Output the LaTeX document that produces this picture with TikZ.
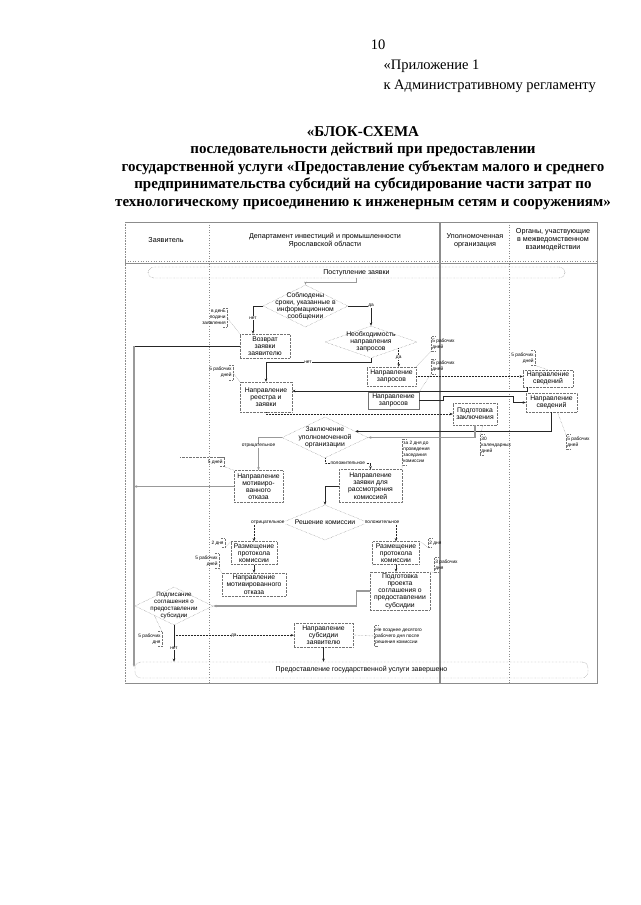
\documentclass[tikz,border=0pt]{standalone}
\usepackage{fontspec}
\setmainfont{Liberation Serif}
\setsansfont{Liberation Sans}
\usetikzlibrary{arrows.meta, positioning, calc, shapes.geometric}
\definecolor{FrameGray}{gray}{0.55}
\definecolor{BoxGray}{gray}{0.45}
\definecolor{LineGray}{gray}{0.6}

\tikzset{
  blk/.style={draw=BoxGray, densely dotted, align=center, inner sep=0pt,
    font=\sffamily\fontsize{6.8}{7.2}\selectfont},
  dmd/.style={blk, diamond, inner xsep=-14pt, inner ysep=-10pt},
  term/.style={blk, rounded corners=6pt, font=\sffamily\fontsize{7}{8}\selectfont},
  noteL/.style={anchor=west, align=left, inner xsep=1.2pt, inner ysep=2pt,
    font=\sffamily\fontsize{4.8}{6}\selectfont},
  noteR/.style={noteL, anchor=east, align=right},
  brk/.style={BoxGray, densely dotted, line width=0.4pt},
  lead/.style={BoxGray, densely dotted, line width=0.4pt},
  arr/.style={-{Stealth[length=3.2pt, width=2.6pt]}},
  con/.style={black!85, line width=0.5pt},
  conG/.style={LineGray, line width=1.1pt},
  cond/.style={black!85, densely dotted, line width=0.5pt},
  lbl/.style={font=\sffamily\fontsize{4.8}{5}\selectfont, text=black, fill=white, inner sep=0.6pt},
  hdr/.style={align=center, font=\sffamily\fontsize{7.2}{8}\selectfont},
}

\begin{document}
\begin{tikzpicture}[x=1pt, y=-1pt]
\useasboundingbox (0,0) rectangle (640,905);

% шапка документа
\node[font=\fontsize{14.5}{20}\selectfont] (pnum) at (378,45) {10};
\node[anchor=north west, align=left, font=\fontsize{14.5}{20}\selectfont] (appx) at (380,56)
    {«Приложение 1\\к Административному регламенту};
\node[align=center, font=\bfseries\fontsize{15}{17.5}\selectfont] (title) at (363,168)
    {«БЛОК-СХЕМА\\последовательности действий при предоставлении\\государственной услуги «Предоставление субъектам малого и среднего\\предпринимательства субсидий на субсидирование части затрат по\\технологическому присоединению к инженерным сетям и сооружениям»};

% рамка и колонки
\draw[FrameGray, line width=0.8pt] (125,222) -- (597,222) -- (597,683) -- (125,683);
\draw[FrameGray, densely dotted, line width=0.6pt] (125,222) -- (125,683);
\draw[FrameGray, dotted, line width=0.6pt] (125,261) -- (597,261);
\draw[FrameGray, line width=0.4pt] (125,263.5) -- (597,263.5);
\draw[FrameGray, dotted, line width=0.6pt] (209,222) -- (209,683);
\draw[FrameGray, line width=1.6pt] (440,222) -- (440,683);
\draw[FrameGray, dotted, line width=0.6pt] (509,222) -- (509,683);

\node[hdr] (hZ) at (166,240) {Заявитель};
\node[hdr] (hD) at (325,241) {Департамент инвестиций и промышленности\\Ярославской области};
\node[hdr] (hU) at (475,241) {Уполномоченная\\организация};
\node[hdr] (hO) at (553,240) {Органы, участвующие\\в межведомственном\\взаимодействии};

% начало и конец
\node[term, minimum width=417, minimum height=11] (tstart) at (356.5,272.5) {Поступление заявки};
\node[term, minimum width=453, minimum height=16] (tend) at (361.5,670)
    {Предоставление государственной услуги завершено};

% блоки
\node[dmd, minimum width=85, minimum height=42] (d1) at (305.5,306)
    {Соблюдены\\сроки, указанные в\\информационном\\сообщении};
\node[dmd, minimum width=92, minimum height=32] (d2) at (371,342)
    {Необходимость\\направления\\запросов};
\node[blk, minimum width=50, minimum height=24] (vozvrat) at (265,346) {Возврат\\заявки\\заявителю};
\node[blk, minimum width=52, minimum height=30] (reestr) at (266,397) {Направление\\реестра и\\заявки};
\node[blk, minimum width=49, minimum height=19] (zapr1) at (391.5,376.5) {Направление\\запросов};
\node[blk, solid, minimum width=51, minimum height=17] (zapr2) at (393.5,400.5) {Направление\\запросов};
\node[blk, minimum width=50, minimum height=17] (sved1) at (548,378.5) {Направление\\сведений};
\node[blk, minimum width=51, minimum height=19] (sved2) at (551.5,402.5) {Направление\\сведений};
\node[blk, minimum width=44, minimum height=22] (podg) at (475,414) {Подготовка\\заключения};
\node[dmd, minimum width=86, minimum height=41] (d3) at (325,437.5)
    {Заключение\\уполномоченной\\организации};
\node[blk, minimum width=49, minimum height=32] (otkaz1) at (258.5,486.5)
    {Направление\\мотивиро-\\ванного\\отказа};
\node[blk, minimum width=63, minimum height=33] (zayavka) at (370.5,486)
    {Направление\\заявки для\\рассмотрения\\комиссией};
\node[dmd, minimum width=86, minimum height=35] (d4) at (325,522.5) {Решение комиссии};
\node[blk, minimum width=46, minimum height=23] (razm1) at (254,553) {Размещение\\протокола\\комиссии};
\node[blk, minimum width=64, minimum height=23] (otkaz2) at (254,584.5)
    {Направление\\мотивированного\\отказа};
\node[blk, minimum width=47, minimum height=23] (razm2) at (396,553) {Размещение\\протокола\\комиссии};
\node[blk, minimum width=60, minimum height=38] (proekt) at (400,591)
    {Подготовка\\проекта\\соглашения о\\предоставлении\\субсидии};
\node[dmd, font=\sffamily\fontsize{6.2}{7}\selectfont, minimum width=78, minimum height=38] (d5) at (174,606)
    {Подписание\\соглашения о\\предоставлении\\субсидии};
\node[blk, minimum width=59, minimum height=24] (subs) at (323.5,635)
    {Направление\\субсидии\\заявителю};

% сроки (скобки слева)
\foreach \nm/\x/\y/\txt in {%
    nc/431/344/{5 рабочих\\дней},
    nd/431/366.5/{5 рабочих\\дней},
    nf/566/442/{5 рабочих\\дней},
    ng/402/452/{за 2 дня до\\проведения\\заседания\\комиссии},
    nh/480/445/{30\\календарных\\дней},
    nl/428/543/{2 дня},
    nm/434/565/{3 рабочих\\дня},
    nn/374/636/{Не позднее десятого\\рабочего дня после\\решения комиссии}}{%
  \node[noteL] (\nm) at (\x,\y) {\txt};
  \draw[brk] ([xshift=4pt]\nm.north west) -- (\nm.north west) -- (\nm.south west) -- ([xshift=4pt]\nm.south west);
}
% сроки (скобки справа)
\foreach \nm/\x/\y/\txt in {%
    na/227/317.5/{в день\\подачи\\заявления},
    nb/233/372.5/{5 рабочих\\дней},
    ne/535/358/{5 рабочих\\дней},
    ni/224/462/{5 дней},
    nj/225/543/{2 дня},
    nk/219/561/{5 рабочих\\дней},
    no/162/639/{5 рабочих\\дня}}{%
  \node[noteR] (\nm) at (\x,\y) {\txt};
  \draw[brk] ([xshift=-4pt]\nm.north east) -- (\nm.north east) -- (\nm.south east) -- ([xshift=-4pt]\nm.south east);
}
\draw[brk] (ni.north east) -- ++(-44,0);

\draw[lead] (na.east) -- (vozvrat.north west);
\draw[lead] (nb.east) -- (reestr.north west);
\draw[lead] (nc.south west) -- (zapr1.north east);
\draw[lead] (nd.south west) -- (zapr2.north east);
\draw[lead] (ne.south east) -- (sved1.north);
\draw[lead] (nf.north west) -- ([xshift=6pt]sved2.south);
\draw[lead] (ng.south west) -- (zayavka.north east);
\draw[lead] (nh.north west) -- ([xshift=8pt]podg.south);
\draw[lead] (ni.south east) -- (otkaz1.north west);
\draw[lead] (nj.south east) -- (razm1.north west);
\draw[lead] (nk.south east) -- (otkaz2.north west);
\draw[lead] (nl.south west) -- (razm2.north east);
\draw[lead] (nm.south west) -- (proekt.north east);
\draw[lead] (nn.west) -- (subs.east);
\draw[lead] (no.north east) -- (d5.south west);

% связи
\coordinate (busT) at (134,346);
\coordinate (busB) at (134,667);
\coordinate (d2da) at ($(d2.south)!0.6!(d2.east)$);
\coordinate (d3ne) at ($(d3.north)!0.7!(d3.east)$);
\coordinate (pj) at ($(d5.south)+(0,10)$);

\draw[arr, conG, line width=0.8pt] (tstart.south) -- ++(0,4) -| (d1.north);
\draw[arr, con] (d1.east) -| (d2.north) node[lbl, pos=0.5] {да};
\draw[arr, con] (d1.west) -| ([xshift=-12pt]vozvrat.north) node[lbl, pos=0.72] {нет};
\draw[arr, con] (d2.south) -- ++(0,4) -| (reestr.north) node[lbl, pos=0.3] {нет};
\draw[arr, cond] (d2da) -- (d2da |- zapr1.north) node[lbl, midway] {да};
\draw[con] (vozvrat.west) -- (busT);
\draw[arr, conG] (busT) -- (busB);
\draw[arr, conG] (otkaz1.west) -- (otkaz1.west -| busT);
\draw[arr, con] ([xshift=4pt]sved1.south west) |- ([yshift=6pt]reestr.east);
\draw[arr, cond] (reestr.south) |- (podg.west);
\draw[arr, cond] (zapr1.east) -- (zapr1.east -| sved1.west);
\draw[arr, con] (zapr2.east) -- ++(24,0) |- ++(70,-4) |- (sved2.west);
\draw[arr, con] (sved2.south) |- (d3ne);
\draw[arr, conG] (podg.south) |- (d3.east);
\draw[arr, conG] (d3.west) -| (otkaz1.north) node[lbl, pos=0.63] {отрицательное};
\draw[arr, cond] (d3.south) -- ++(0,5) -| (zayavka.north) node[lbl, pos=0.25] {положительное};
\draw[arr, con] (zayavka.west) -| (d4.north);
\draw[arr, cond] (d4.west) -| (razm1.north) node[lbl, pos=0.25] {отрицательное};
\draw[arr, cond] (d4.east) -| (razm2.north) node[lbl, pos=0.25] {положительное};
\draw[arr, con] (razm1.south) -- (otkaz2.north);
\draw[arr, con] (razm2.south) -- (razm2.south |- proekt.north);
\draw[arr, conG] (proekt.west) -- ++(-13,0) |- (d5.east);
\draw[con] (d5.south) -- (pj);
\draw[arr, cond] (pj) -- (pj -| subs.west) node[lbl, midway] {да};
\draw[arr, con] (pj) -- (pj |- tend.north) node[lbl, midway] {нет};
\draw[arr, con] (subs.south) -- (subs.south |- tend.north);

\end{tikzpicture}
\end{document}
